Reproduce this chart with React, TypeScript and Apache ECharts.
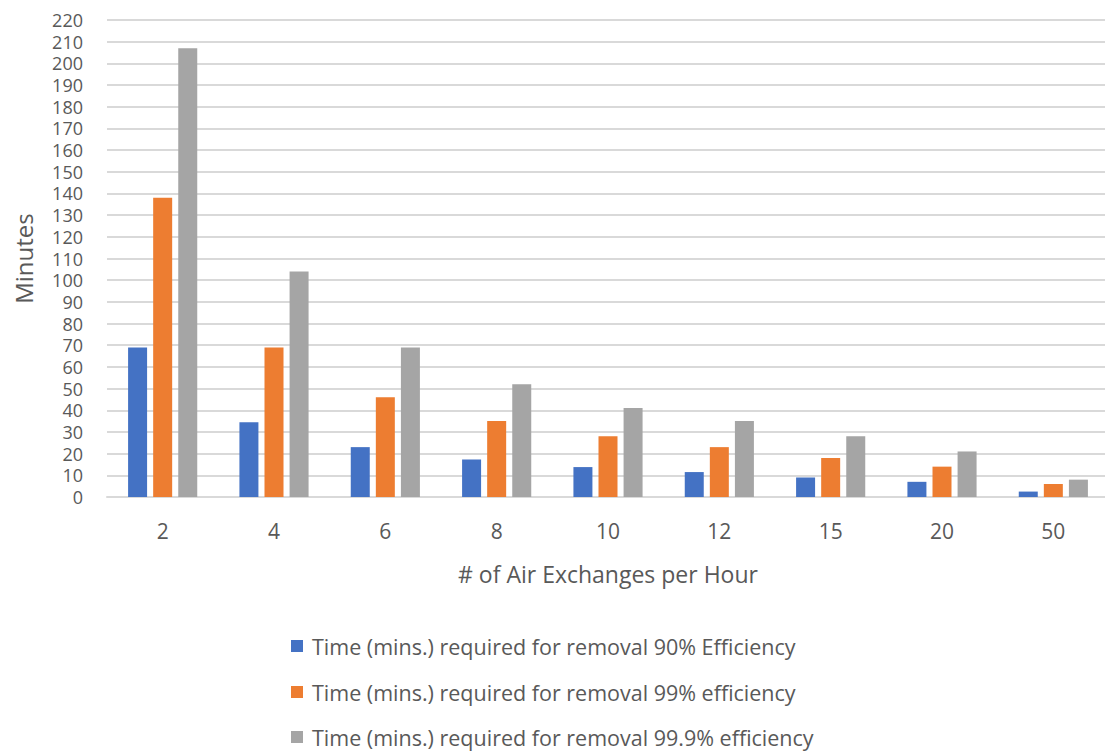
import React, { useEffect, useRef } from "react";
import * as echarts from "echarts";

const categories = ["2", "4", "6", "8", "10", "12", "15", "20", "50"];
const series90 = [69, 34.5, 23, 17.3, 13.8, 11.5, 9, 7, 2.5];
const series99 = [138, 69, 46, 35, 28, 23, 18, 14, 6];
const series999 = [207, 104, 69, 52, 41, 35, 28, 21, 8];
const seriesNames = [
  "Time (mins.) required for removal 90% Efficiency",
  "Time (mins.) required for removal 99% efficiency",
  "Time (mins.) required for removal 99.9% efficiency",
];
const colors = ["#4472c4", "#ed7d31", "#a5a5a5"];

export default function App() {
  const ref = useRef<HTMLDivElement>(null);
  useEffect(() => {
    if (!ref.current) return;
    const chart = echarts.init(ref.current, null, { renderer: "svg" });
    const font = "'Open Sans', 'Liberation Sans', sans-serif";
    const data = [series90, series99, series999];
    const legendTops = [635, 681, 726];
    chart.setOption({
      animation: false,
      backgroundColor: "#ffffff",
      textStyle: { fontFamily: font, color: "#595959" },
      grid: { left: 107, top: 20, width: 1002, height: 477, outerBoundsMode: "none", containLabel: false },
      legend: seriesNames.map((name, i) => ({
        orient: "vertical",
        left: 291,
        top: legendTops[i],
        padding: 0,
        itemWidth: 12,
        itemHeight: 12,
        itemGap: 0,
        icon: "rect",
        textStyle: { fontSize: 21.5, color: "#595959", fontFamily: font, padding: [0, 0, 0, 4] },
        data: [name],
      })),
      xAxis: {
        type: "category",
        data: categories,
        name: "# of Air Exchanges per Hour",
        nameLocation: "middle",
        nameGap: 65,
        nameTextStyle: { fontSize: 23, color: "#595959", fontFamily: font },
        axisLine: { lineStyle: { color: "#d9d9d9", width: 2 } },
        axisTick: { show: false },
        axisLabel: { fontSize: 21, color: "#595959", margin: 23, fontFamily: font },
      },
      yAxis: {
        type: "value",
        min: 0,
        max: 220,
        interval: 10,
        name: "Minutes",
        nameLocation: "middle",
        nameGap: 72,
        nameRotate: 90,
        nameTextStyle: { fontSize: 24, color: "#595959", fontFamily: font },
        axisLine: { show: false },
        axisTick: { show: false },
        axisLabel: {
          fontSize: 18,
          color: "#595959",
          margin: 24,
          fontFamily: font,
          lineHeight: 18,
          showMinLabel: true,
          showMaxLabel: true,
          hideOverlap: false,
        },
        splitLine: { lineStyle: { color: "#d9d9d9", width: 2 } },
      },
      series: seriesNames.map((name, i) => ({
        name,
        type: "bar",
        data: data[i],
        barWidth: 19,
        barGap: "32%",
        itemStyle: { color: colors[i] },
      })),
    });
    return () => chart.dispose();
  }, []);
  return (
    <div
      ref={ref}
      style={{ position: "fixed", left: 0, top: 0, width: 1105, height: 752 }}
    />
  );
}
